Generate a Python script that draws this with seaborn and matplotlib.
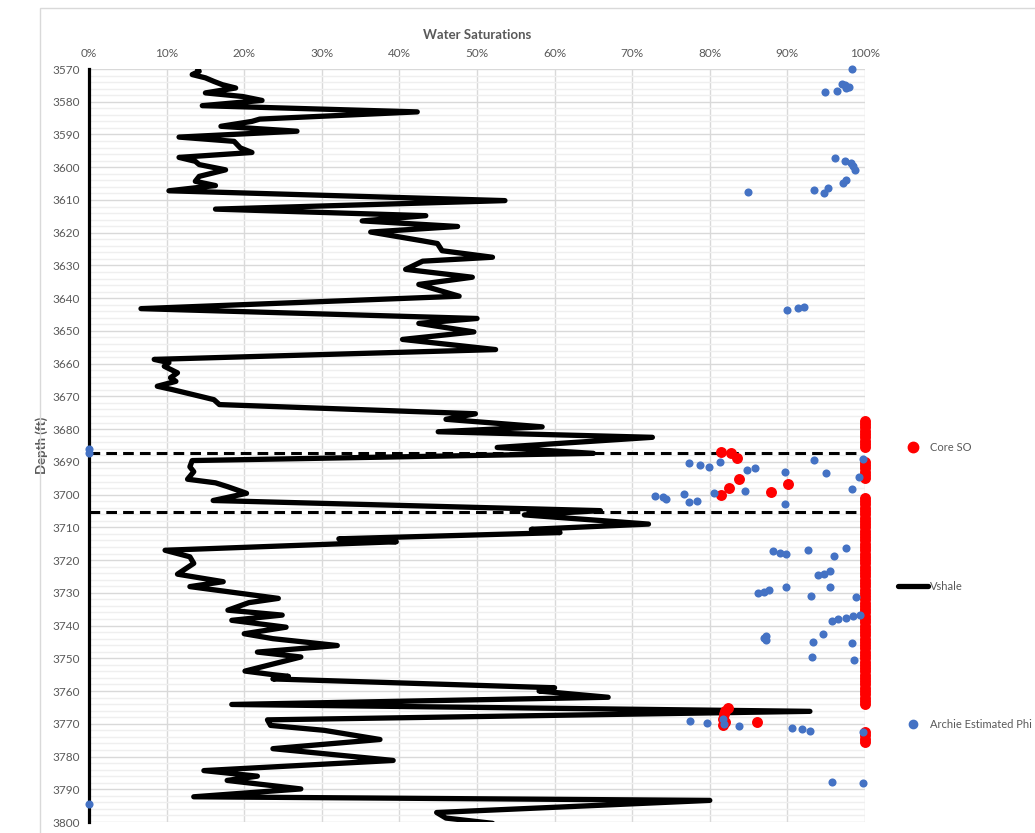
import matplotlib
matplotlib.use("Agg")
import matplotlib.pyplot as plt
import seaborn as sns
import pandas as pd
from matplotlib.lines import Line2D
from matplotlib.patches import Rectangle
from matplotlib.ticker import MultipleLocator, PercentFormatter

# Vshale log (percent) against measured depth (ft)
vshale_pct = [
    14.0, 14.2, 13.3, 15.0, 16.1, 17.2, 18.9, 15.0, 19.8, 22.3, 14.6, 42.3,
    22.0, 21.0, 17.0, 26.8, 11.6, 18.7, 19.5, 21.0, 11.6, 13.7, 14.2, 17.6,
    14.2, 13.7, 16.3, 10.3, 53.6, 16.3, 43.4, 35.2, 47.5, 36.3, 43.0, 44.9,
    45.5, 52.0, 43.0, 40.8, 49.4, 42.5, 47.7, 6.7, 50.0, 42.5, 49.6, 40.4,
    52.4, 8.4, 10.3, 9.7, 11.4, 10.5, 11.2, 8.8, 10.7, 14.2, 16.1, 16.8,
    49.8, 46.0, 58.4, 45.0, 72.6, 52.6, 65.0, 13.3, 13.0, 13.5, 12.7, 16.3,
    17.9, 20.3, 16.0, 65.9, 56.1, 72.1, 57.0, 60.7, 32.2, 39.6, 9.8, 13.0,
    13.5, 11.4, 17.3, 13.0, 24.4, 20.6, 17.9, 24.9, 18.4, 25.4, 20.0, 23.7,
    32.0, 21.7, 27.3, 20.1, 23.7, 25.7, 23.7, 60.0, 58.0, 66.9, 18.4, 92.9,
    23.0, 23.4, 30.3, 37.5, 23.7, 39.2, 14.8, 21.7, 17.8, 27.3, 13.5, 80.0,
    44.8, 46.0, 52.0,
]
vshale_depth = [
    3570.0, 3570.7, 3571.7, 3572.7, 3573.8, 3574.8, 3575.8, 3577.3, 3578.4, 3579.6, 3581.2, 3583.1,
    3585.3, 3586.0, 3587.5, 3589.0, 3590.8, 3592.1, 3594.1, 3595.5, 3597.0, 3598.2, 3599.2, 3600.8,
    3602.8, 3604.3, 3605.6, 3607.2, 3610.2, 3612.8, 3614.8, 3616.4, 3618.1, 3619.8, 3622.5, 3623.3,
    3625.5, 3627.5, 3628.7, 3631.2, 3633.6, 3635.8, 3639.4, 3643.2, 3646.2, 3647.7, 3650.3, 3652.6,
    3655.7, 3658.7, 3659.7, 3660.8, 3662.8, 3664.3, 3665.4, 3666.9, 3667.9, 3669.9, 3671.0, 3672.5,
    3675.3, 3677.0, 3679.3, 3680.8, 3682.5, 3685.6, 3687.4, 3689.6, 3691.5, 3693.0, 3695.3, 3696.4,
    3697.6, 3699.6, 3701.8, 3704.9, 3706.2, 3709.0, 3710.6, 3711.6, 3713.5, 3714.4, 3717.0, 3719.0,
    3721.0, 3724.3, 3726.6, 3728.1, 3731.7, 3733.0, 3735.3, 3736.8, 3738.4, 3740.5, 3742.5, 3744.0,
    3746.1, 3748.1, 3749.6, 3753.9, 3755.0, 3755.5, 3756.3, 3759.0, 3760.0, 3761.9, 3764.1, 3766.2,
    3768.8, 3770.5, 3772.0, 3774.8, 3777.6, 3781.2, 3784.3, 3786.0, 3787.3, 3789.9, 3792.3, 3793.4,
    3797.1, 3798.8, 3800.4,
]

# Archie estimated values (percent) and their depths
archie_pct = [
    98.3, 97.1, 97.4, 97.9, 97.5, 96.4, 94.9,
    96.1, 97.4, 98.2, 98.5, 98.7, 97.6, 97.2, 95.2, 93.4, 94.7, 84.9,
    90.0, 91.4, 92.1,
    0.0, 0.0,
    77.3, 78.8, 79.9, 81.3, 84.8, 85.8, 89.7, 93.4, 95.0, 99.2, 99.8,
    73.0, 74.0, 74.3, 76.7, 77.3, 78.3, 80.5, 84.6, 89.7, 98.3,
    97.6, 88.1, 89.0, 89.8, 92.7, 96.0,
    95.5, 94.7, 93.9,
    95.5, 89.8, 87.6, 87.0, 86.2, 93.0, 98.8,
    99.3, 98.5, 97.5, 96.5, 95.8,
    94.6, 87.3, 87.0, 87.2, 93.3, 98.3, 93.2, 98.6,
    77.4, 79.6, 81.7, 81.8, 83.8, 90.6, 91.9, 92.9, 99.8,
    95.7, 99.8,
    0.0,
]
archie_depth = [
    3570.1, 3574.6, 3575.0, 3575.6, 3575.8, 3576.6, 3577.0,
    3597.2, 3598.1, 3598.7, 3599.6, 3600.8, 3603.9, 3604.8, 3606.3, 3607.0, 3607.9, 3607.6,
    3643.6, 3643.0, 3642.7,
    3686.1, 3687.3,
    3690.4, 3690.95, 3691.5, 3690.0, 3692.5, 3692.0, 3693.0, 3689.4, 3693.5, 3694.5, 3689.1,
    3700.4, 3700.8, 3701.3, 3699.8, 3702.2, 3701.9, 3699.4, 3698.9, 3702.9, 3698.4,
    3716.3, 3717.2, 3717.8, 3718.1, 3716.9, 3718.7,
    3723.3, 3724.2, 3724.5,
    3728.2, 3728.2, 3729.1, 3729.7, 3730.0, 3731.0, 3731.3,
    3736.7, 3737.2, 3737.6, 3738.1, 3738.6,
    3742.6, 3743.2, 3743.8, 3744.4, 3745.0, 3745.3, 3749.6, 3750.5,
    3769.2, 3769.7, 3768.5, 3770.0, 3770.6, 3771.2, 3771.7, 3772.2, 3772.5,
    3787.8, 3788.1,
    3794.6,
]

# Core oil saturation (percent) and sample depths
core_pct = [
    81.4, 82.7, 83.5, 83.8, 82.5, 81.4, 87.9, 90.1,
    82.3, 82.0, 81.8, 81.7, 81.9, 81.7, 86.1,
] + [100.0] * 83
core_depth = [
    3686.9, 3687.4, 3688.7, 3695.1, 3698.1, 3700.1, 3699.1, 3696.8,
    3765.2, 3766.0, 3767.0, 3768.5, 3769.5, 3770.5, 3769.5,
    3677.5, 3678.5, 3679.5, 3680.5, 3681.5, 3682.5, 3683.5, 3684.5, 3685.5,
    3690.0, 3691.0, 3692.0, 3693.0, 3694.0, 3695.0,
    3701.0, 3702.0, 3703.0, 3704.0, 3705.0, 3706.0, 3707.0, 3708.0, 3709.0, 3710.0,
    3711.0, 3712.0, 3713.0, 3714.0, 3715.0, 3716.0, 3717.0, 3718.0, 3719.0, 3720.0,
    3721.0, 3722.0, 3723.0, 3724.0, 3725.0, 3726.0, 3727.0, 3728.0, 3729.0, 3730.0,
    3731.0, 3732.0, 3733.0, 3734.0, 3735.0, 3736.0, 3737.0, 3738.0, 3739.0, 3740.0,
    3741.0, 3742.0, 3743.0, 3744.0, 3745.0, 3746.0, 3747.0, 3748.0, 3749.0, 3750.0,
    3751.0, 3752.0, 3753.0, 3754.0, 3755.0, 3756.0, 3757.0, 3758.0, 3759.0, 3760.0,
    3761.0, 3762.0, 3763.0, 3764.0,
    3772.5, 3773.5, 3774.5, 3775.5,
]

# Zone boundaries
zone_depths = [3687.3, 3705.3]

GREY = "#595959"
BLUE = "#4472C4"
RED = "#FF0000"

sns.set_theme(style="white")
plt.rcParams["font.family"] = ["Lato", "DejaVu Sans"]

W, H = 1035, 833
fig = plt.figure(figsize=(W / 100, H / 100), dpi=100)

# light chart-area frame
fig.add_artist(Rectangle((40 / W, -0.05), 1.2, 1 - 8 / H + 0.05, transform=fig.transFigure,
                         fill=False, edgecolor="#d9d9d9", linewidth=1.0))

ax = fig.add_axes([89 / W, 1 - 822 / H, 776 / W, 753 / H])

vsh = pd.DataFrame({"pct": vshale_pct, "depth": vshale_depth})
sns.lineplot(data=vsh, x="pct", y="depth", sort=False, estimator=None, color="black",
             linewidth=3.8, ax=ax, zorder=3, solid_capstyle="round", solid_joinstyle="round")

for d in zone_depths:
    ax.plot([0, 99.6], [d, d], color="black", linewidth=2.2, linestyle=(0, (3.5, 2.0)), zorder=4)

sns.scatterplot(x=core_pct, y=core_depth, color=RED, s=62, linewidth=0, ax=ax, zorder=5,
                clip_on=False)
sns.scatterplot(x=archie_pct, y=archie_depth, color=BLUE, s=34, linewidth=0, ax=ax, zorder=6,
                clip_on=False)

ax.set_xlim(0, 100)
ax.set_ylim(3800, 3570)
ax.xaxis.set_major_locator(MultipleLocator(10))
ax.xaxis.set_major_formatter(PercentFormatter(100, decimals=0))
ax.yaxis.set_major_locator(MultipleLocator(10))
ax.yaxis.set_minor_locator(MultipleLocator(2))
ax.xaxis.tick_top()
ax.xaxis.set_label_position("top")

ax.grid(which="major", color="#d9d9d9", linewidth=1.0, zorder=0)
ax.grid(which="minor", axis="y", color="#efefef", linewidth=1.0, zorder=0)
ax.set_axisbelow(True)

for side in ["top", "right", "bottom"]:
    ax.spines[side].set_visible(False)
ax.spines["left"].set_color("black")
ax.spines["left"].set_linewidth(2.3)
ax.spines["left"].set_zorder(5.5)

ax.tick_params(axis="x", which="both", length=0, pad=7.5, labelsize=8.5, labelcolor=GREY)
ax.tick_params(axis="y", which="both", length=0, pad=6.5, labelsize=8.5, labelcolor=GREY)

ax.set_xlabel("Water Saturations", fontsize=9.5, fontweight="bold", color=GREY)
ax.xaxis.set_label_coords(0.5, 1 + 30 / 753)
ax.set_ylabel("Depth (ft)", fontsize=9.5, fontweight="bold", color=GREY)
ax.yaxis.set_label_coords(-(89 - 48) / 776, 0.5)

handles = [
    Line2D([], [], linestyle="none", marker="o", markersize=7.5, color=RED, label="Core SO"),
    Line2D([], [], color="black", linewidth=3.8, solid_capstyle="round", label="Vshale"),
    Line2D([], [], linestyle="none", marker="o", markersize=6, color=BLUE, label="Archie Estimated Phi"),
]
fig.legend(handles=handles, loc="center left", bbox_to_anchor=(898 / W, 1 - 586 / H),
           frameon=False, fontsize=8, labelcolor=GREY, handlelength=2.7, handletextpad=0.2,
           labelspacing=11.5, borderpad=0, borderaxespad=0)

fig.savefig("out.png", dpi=100)
